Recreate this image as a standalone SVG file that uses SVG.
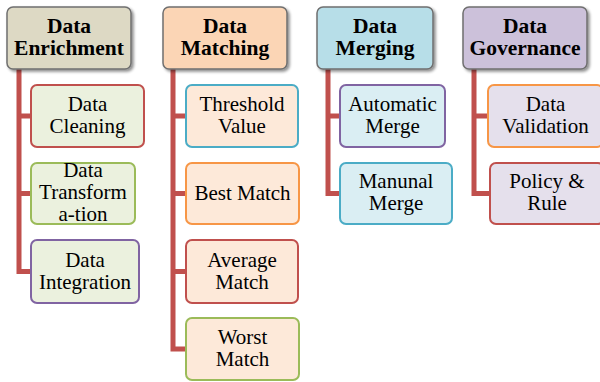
<svg xmlns="http://www.w3.org/2000/svg" width="600" height="382" viewBox="0 0 600 382">
<defs>
<filter id="sh" x="-10%" y="-10%" width="130%" height="140%">
<feGaussianBlur in="SourceAlpha" stdDeviation="1.5"/>
<feOffset dx="1.5" dy="2" result="b"/>
<feComponentTransfer><feFuncA type="linear" slope="0.45"/></feComponentTransfer>
<feMerge><feMergeNode/><feMergeNode in="SourceGraphic"/></feMerge>
</filter>
</defs>
<style>
text{font-family:'Liberation Serif','Times New Roman',serif;fill:#000;text-anchor:middle}
.hd rect{stroke:#6f6f6f;stroke-width:1.5;filter:url(#sh)}
.hd text{font-weight:bold;font-size:21.5px}
.ch rect{stroke-width:2}
.ch text{font-size:21px}
.cn path{fill:none;stroke:#C0504D;stroke-width:5;stroke-linejoin:miter}
</style>
<g id="connectors" class="cn">
<path d="M19 69 V271.5 H31 M19 116 H31 M19 193.5 H31"/>
<path d="M173 69 V349 H186 M173 116 H186 M173 193.5 H186 M173 271.5 H186"/>
<path d="M328 69 V193.5 H340 M328 116 H340"/>
<path d="M474 69 V193.5 H490 M474 116 H488"/>
</g>
<g id="h-enrichment" class="hd"><rect x="7" y="7" width="124" height="62" rx="6" fill="#DDD9C4"/><text x="69" y="33">Data</text><text x="69" y="55">Enrichment</text></g>
<g id="h-matching" class="hd"><rect x="163" y="7" width="124" height="62" rx="6" fill="#FBD5B5"/><text x="225" y="33">Data</text><text x="225" y="55">Matching</text></g>
<g id="h-merging" class="hd"><rect x="317" y="7" width="116" height="62" rx="6" fill="#B7DEE8"/><text x="375" y="33">Data</text><text x="375" y="55">Merging</text></g>
<g id="h-governance" class="hd"><rect x="463" y="7" width="124" height="62" rx="6" fill="#CCC1DA"/><text x="525" y="33">Data</text><text x="525" y="55">Governance</text></g>

<g id="c-cleaning" class="ch"><rect x="31" y="85" width="113" height="62" rx="6" fill="#EBF1DE" stroke="#C0504D"/><text x="87.5" y="111">Data</text><text x="87.5" y="133">Cleaning</text></g>
<g id="c-transformation" class="ch"><rect x="31" y="163" width="104" height="61" rx="6" fill="#EBF1DE" stroke="#9BBB59"/><text x="83" y="177">Data</text><text x="83" y="199">Transform</text><text x="83" y="221">a-tion</text></g>
<g id="c-integration" class="ch"><rect x="31" y="240" width="108" height="63" rx="6" fill="#EBF1DE" stroke="#8064A2"/><text x="85" y="267">Data</text><text x="85" y="289">Integration</text></g>

<g id="c-threshold" class="ch"><rect x="186" y="85" width="112" height="62" rx="6" fill="#FDE9D9" stroke="#4BACC6"/><text x="242" y="111">Threshold</text><text x="242" y="133">Value</text></g>
<g id="c-best" class="ch"><rect x="186" y="163" width="113" height="61" rx="6" fill="#FDE9D9" stroke="#F79646"/><text x="242.5" y="200">Best Match</text></g>
<g id="c-average" class="ch"><rect x="186" y="240" width="112" height="63" rx="6" fill="#FDE9D9" stroke="#C0504D"/><text x="242" y="267">Average</text><text x="242" y="289">Match</text></g>
<g id="c-worst" class="ch"><rect x="186" y="318" width="113" height="62" rx="6" fill="#FDE9D9" stroke="#9BBB59"/><text x="242.5" y="344">Worst</text><text x="242.5" y="366">Match</text></g>

<g id="c-automatic" class="ch"><rect x="340" y="85" width="105" height="62" rx="6" fill="#DAEEF3" stroke="#8064A2"/><text x="392.5" y="111">Automatic</text><text x="392.5" y="133">Merge</text></g>
<g id="c-manual" class="ch"><rect x="340" y="163" width="112" height="61" rx="6" fill="#DAEEF3" stroke="#4BACC6"/><text x="396" y="188">Manunal</text><text x="396" y="210">Merge</text></g>

<g id="c-validation" class="ch"><rect x="488" y="85" width="115" height="62" rx="6" fill="#E5E0EC" stroke="#F79646"/><text x="545.5" y="111">Data</text><text x="545.5" y="133">Validation</text></g>
<g id="c-policy" class="ch"><rect x="490" y="163" width="114" height="61" rx="6" fill="#E5E0EC" stroke="#C0504D"/><text x="547" y="188">Policy &amp;</text><text x="547" y="210">Rule</text></g>
</svg>
